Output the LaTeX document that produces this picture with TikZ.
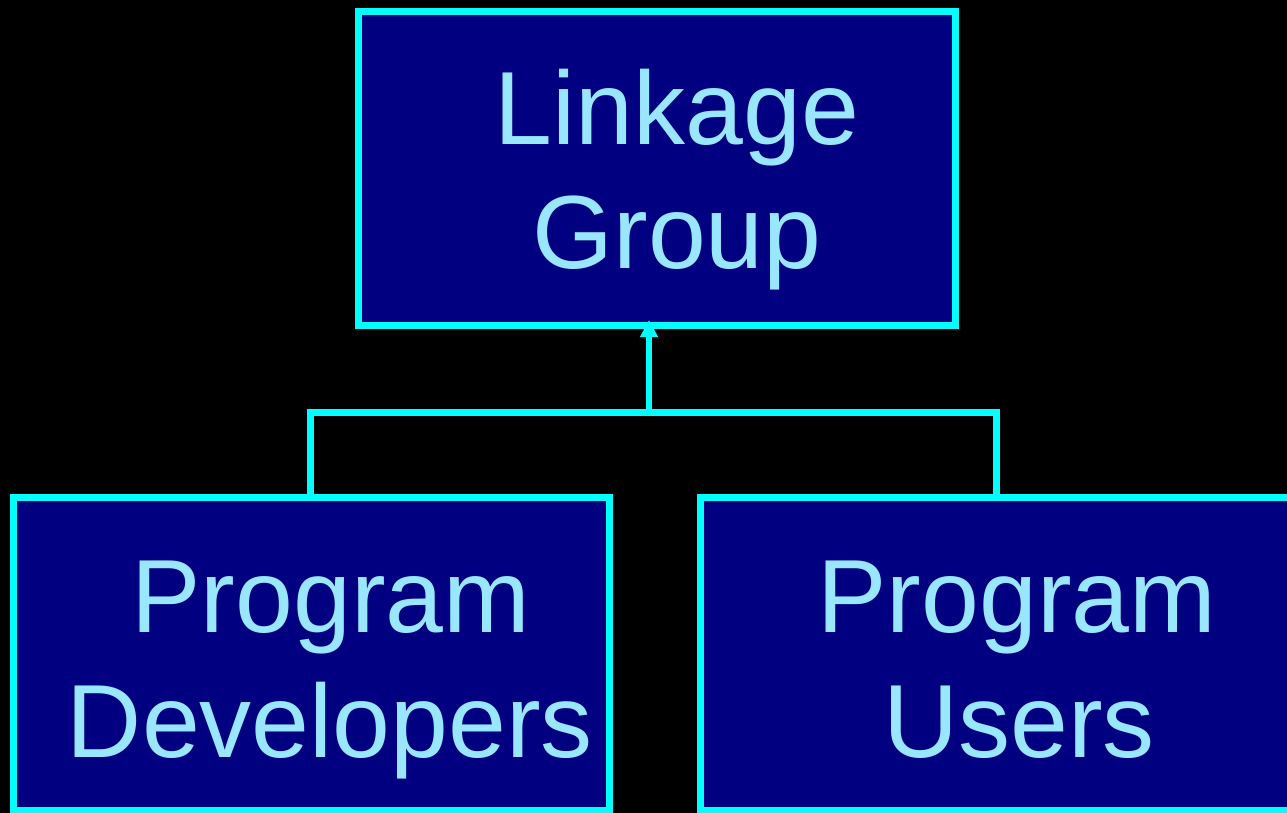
\documentclass[tikz,border=0pt]{standalone}
\usepackage{fontspec}
\setmainfont{Liberation Sans}
\usetikzlibrary{arrows.meta}
\definecolor{navyfill}{RGB}{0,0,128}
\definecolor{cyanline}{RGB}{0,255,255}
\definecolor{paleblue}{RGB}{153,230,255}
\tikzset{
  orgbox/.style={draw=cyanline, fill=navyfill, line width=7pt, inner sep=0pt, outer sep=0pt, rectangle},
  boxtext/.style={text=paleblue, anchor=base, inner sep=0pt, font=\fontsize{104}{123}\selectfont},
  link/.style={draw=cyanline, line width=7pt},
}
\begin{document}
\begin{tikzpicture}[x=1pt, y=-1pt]
  % canvas
  \fill[black] (0,0) rectangle (1287,813);
  \useasboundingbox (0,0) rectangle (1287,813);

  % boxes
  \node[orgbox, minimum width=596.5pt, minimum height=313.5pt] (lg) at (656.75,168.25) {};
  \node[orgbox, minimum width=595.5pt, minimum height=312.5pt] (dev) at (311.25,653.75) {};
  \node[orgbox, minimum width=596.5pt, minimum height=312.5pt] (usr) at (998.75,653.75) {};

  % labels
  \node[boxtext] (lgA) at (677,145) {Linkage};
  \node[boxtext] (lgB) at (677,268) {Group};
  \node[boxtext] (devA) at (331,632) {Program};
  \node[boxtext] (devB) at (330,757) {Developers};
  \node[boxtext] (usrA) at (1017,632) {Program};
  \node[boxtext] (usrB) at (1019,757) {Users};

  % connectors
  \coordinate (jl) at (310,412);
  \coordinate (jr) at (996,412);
  \coordinate (jm) at (649,412);
  \draw[link] (dev.north -| jl) -- (jl) -- (jr) -- (usr.north -| jr);
  \draw[link, line width=6pt, -{Triangle[width=17pt,length=17pt]}] (jm) -- ([yshift=5pt]lg.south -| jm);
\end{tikzpicture}
\end{document}
